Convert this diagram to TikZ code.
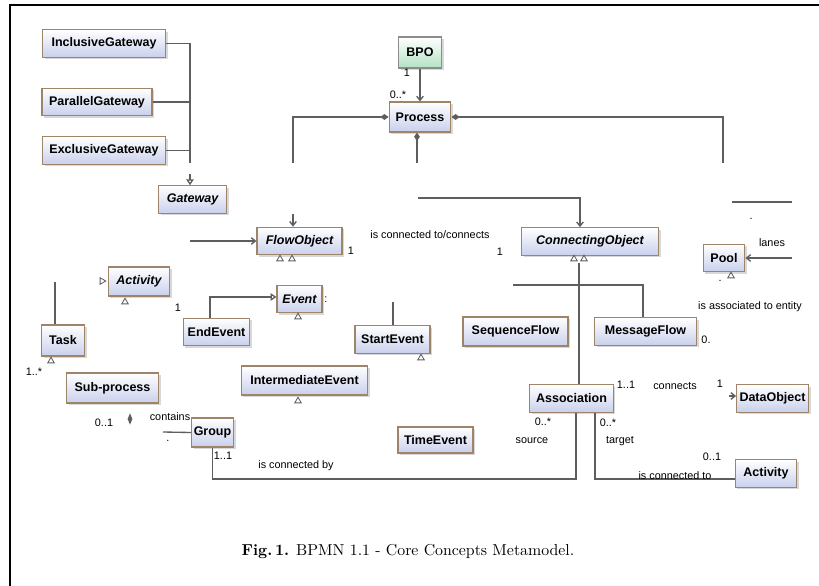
\documentclass[tikz,border=0pt]{standalone}
\usepackage{fontspec}
\newfontfamily\umlfont{Liberation Sans}
\usetikzlibrary{arrows.meta,shadows,shapes.geometric}
\definecolor{wire}{HTML}{5E5E5E}
\definecolor{boxblue}{HTML}{C9D0EC}
\definecolor{boxedge}{HTML}{9E8468}
\definecolor{bpogreen}{HTML}{B2E2C4}
\tikzset{
  cls/.style={draw=boxedge, line width=0.7pt, top color=white, bottom color=boxblue, minimum height=16.5pt, inner sep=1pt,
    font=\umlfont\bfseries\fontsize{7.5}{9}\selectfont, drop shadow={shadow xshift=1.3pt, shadow yshift=-1.3pt, fill=black!30}},
  abscls/.style={cls, font=\umlfont\bfseries\itshape\fontsize{7.5}{9}\selectfont},
  bpobox/.style={cls, draw=black!45, bottom color=bpogreen},
  link/.style={draw=wire, line width=0.8pt},
  gen/.style={link, -{Triangle[open, length=3.5pt, width=4.5pt]}},
  nav/.style={link, -{Straight Barb[length=2.5pt, width=4pt]}},
  comp/.style={link, {Diamond[length=5pt, width=3.5pt]}-},
  lbl/.style={font=\umlfont\fontsize{6.5}{7}\selectfont, inner sep=0.5pt},
  tip/.style={draw=wire, regular polygon, regular polygon sides=3, minimum size=4.5pt, inner sep=0pt, line width=0.5pt},
}
\begin{document}
\begin{tikzpicture}[x=0.6pt, y=-0.6pt]
\useasboundingbox (0,0) rectangle (819,586);
\draw[line width=1.3pt] (10,586) -- (10,5) -- (819,5);
% gateways
\node[cls, minimum width=74pt] (incl) at (104,43.5) {InclusiveGateway};
\node[cls, minimum width=66pt] (par) at (97,102) {ParallelGateway};
\node[cls, minimum width=74pt] (excl) at (104,150.5) {ExclusiveGateway};
\node[abscls, minimum width=41pt] (gate) at (192.5,199.5) {Gateway};
\coordinate (gwcut) at (190,163);
\coordinate (gwin) at (190,174);
\draw[link] (incl.east) -| (gwcut);
\draw[link] (par.east) -- (par.east -| gwcut);
\draw[link] (excl.east) -- (excl.east -| gwcut);
\draw[gen] (gwin) -- (gwin |- gate.north);
% process
\node[bpobox, minimum width=26pt, minimum height=18.6pt] (bpo) at (420,52.5) {BPO};
\node[cls, minimum width=37pt, minimum height=18pt] (proc) at (420,117) {Process};
\draw[comp, -{Straight Barb[length=2.5pt, width=4pt]}] (bpo.south) -- (proc.north);
\node[lbl] (bpom1) at (407,73) {1};
\node[lbl] (bpom2) at (398,95) {0..*};
\coordinate (flcut) at (293,163);
\coordinate (cocut) at (723,163);
\coordinate (pbcut) at (417,163);
\draw[comp] (proc.west) -| (flcut);
\draw[comp] (proc.east) -| (cocut);
\draw[comp] (proc.south -| pbcut) -- (pbcut);
% flow objects
\node[abscls, minimum width=51pt] (flow) at (299.5,241) {FlowObject};
\node[abscls, minimum width=82pt] (conn) at (590,241.5) {ConnectingObject};
\node[cls, minimum width=25pt] (pool) at (724,258) {Pool};
\coordinate (flin) at (293,214);
\coordinate (flsrc) at (190,241);
\draw[nav] (flin) -- (flin |- flow.north);
\draw[nav] (flsrc) -- (flow.west);
\coordinate (cobus) at (418,198);
\coordinate (coin) at (580,198);
\draw[nav] (cobus) -- (coin) -- (coin |- conn.north);
\node[lbl] (conlbl) at (430,235) {is connected to/connects};
\node[lbl] (conm1) at (351,251) {1};
\node[lbl] (conm2) at (500,252) {1};
\node[tip] (flt1) at (280,259) {};
\node[tip] (flt2) at (292,259) {};
\node[tip] (cot1) at (574,259) {};
\node[tip] (cot2) at (584,259) {};
% pool
\coordinate (pla) at (732,202);
\coordinate (plb) at (792,202);
\coordinate (lnsrc) at (792,258);
\draw[link] (pla) -- (plb);
\draw[nav] (lnsrc) -- (pool.east);
\node[lbl] (pdot) at (751,219) {.};
\node[lbl] (lanes) at (772,243) {lanes};
\node[tip] (poolt) at (731,276) {};
\node[lbl] (pdot2) at (720,281) {.};
\node[lbl] (entlbl) at (750,307) {is associated to entity};
% activities and events
\node[abscls, minimum width=37pt, minimum height=17.4pt] (actA) at (139,281.5) {Activity};
\node[tip, shape border rotate=-90] (actAt) at (102,281) {};
\node[tip] (actAt2) at (125,302) {};
\node[lbl] (actAm) at (178,308) {1};
\node[cls, minimum width=26pt, minimum height=18.6pt] (task) at (63,340.5) {Task};
\coordinate (tasksrc) at (55,282);
\draw[link] (tasksrc) -- (tasksrc |- task.north);
\node[tip] (taskt) at (51,361) {};
\node[lbl] (taskm) at (34,372) {1..*};
\node[abscls, minimum width=27pt] (event) at (299.5,299) {Event};
\node[lbl] (eventm) at (326,300) {:};
\node[tip] (eventt) at (298,317) {};
\node[cls, minimum width=40pt] (endev) at (216.5,332) {EndEvent};
\coordinate (endbend) at (210,297);
\draw[gen] (endbend |- endev.north) -- (endbend) -- (endbend -| event.west);
\node[cls, minimum width=45pt] (start) at (392.5,339.5) {StartEvent};
\coordinate (startsrc) at (393,302);
\draw[link] (startsrc) -- (startsrc |- start.north);
\node[tip] (startt) at (421,358) {};
\node[cls, minimum width=76pt, minimum height=17.4pt] (inter) at (304.5,380.5) {IntermediateEvent};
\node[tip] (intert) at (298,401) {};
\node[cls, minimum width=63pt, minimum height=17.4pt] (seq) at (515.5,331.5) {SequenceFlow};
\node[cls, minimum width=61pt] (msg) at (645.5,331.5) {MessageFlow};
\coordinate (mfbus) at (513,285);
\coordinate (mfcorner) at (643,285);
\draw[link] (mfbus) -- (mfcorner) -- (mfcorner |- msg.north);
\node[lbl] (msgm) at (706,340) {0.};
% sub-process and group
\node[cls, minimum width=55pt, minimum height=18pt] (sub) at (112.5,388) {Sub-process};
\node[diamond, fill=wire, minimum width=3pt, minimum height=7pt, inner sep=0pt] (subdia) at (130,419) {};
\node[lbl] (subm) at (104,423) {0..1};
\node[lbl] (sublbl) at (170,417) {contains};
\node[cls, minimum width=25pt, minimum height=17.4pt] (group) at (212.5,432.5) {Group};
\coordinate (grpsrc) at (163,432);
\draw[link] (grpsrc) -- (group.west);
\node[lbl] (gdot) at (168,441) {.};
\node[cls, minimum width=45pt, minimum height=15.6pt] (time) at (435.5,440) {TimeEvent};
% association
\node[cls, minimum width=50pt] (assoc) at (571.5,398.5) {Association};
\node[cls, minimum width=43pt] (data) at (772.5,398.5) {DataObject};
\node[cls, minimum width=37pt] (act) at (766,473.5) {Activity};
\coordinate (cospine) at (579,263);
\draw[link] (cospine) -- (cospine |- assoc.north);
\coordinate (dosrc) at (729,396);
\draw[nav] (dosrc) -- (dosrc -| data.west);
\node[lbl] (dom1) at (626,385) {1..1};
\node[lbl] (dolbl) at (675,386) {connects};
\node[lbl] (dom2) at (720,384) {1};
\coordinate (abus) at (576,479);
\coordinate (tbus) at (595,479);
\draw[link] (group.south) |- (abus) -- (abus |- assoc.south);
\draw[link] (tbus |- assoc.south) -- (tbus) -- (tbus -| act.west);
\node[lbl] (grpm) at (223,456) {1..1};
\node[lbl] (grplbl) at (296,466) {is connected by};
\node[lbl] (srcm) at (543,422) {0..*};
\node[lbl] (srclbl) at (532,441) {source};
\node[lbl] (tgtm) at (608,423) {0..*};
\node[lbl] (tgtlbl) at (620,441) {target};
\node[lbl] (actm) at (712,457) {0..1};
\node[lbl] (actlbl) at (675,476) {is connected to};
% caption
\node[font=\fontsize{9.5}{11}\selectfont] (cap) at (408,552) {\textbf{Fig.\,1.} BPMN 1.1 - Core Concepts Metamodel.};
\end{tikzpicture}
\end{document}
